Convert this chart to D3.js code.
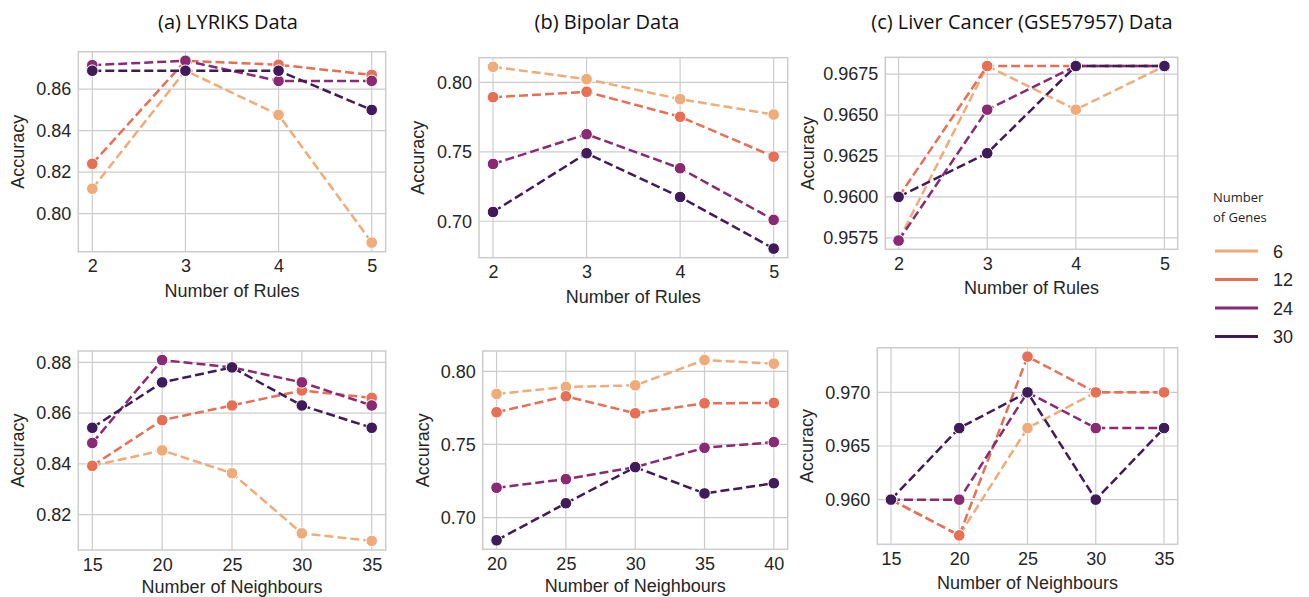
<!DOCTYPE html>
<html>
<head>
<meta charset="utf-8">
<script src="https://cdn.jsdelivr.net/npm/d3@7"></script>
<style>
  html, body { margin: 0; padding: 0; background: #fff; }
  svg { display: block; }
</style>
</head>
<body>
<svg id="chart" width="1309" height="597"></svg>
<script>
// ---------------- DATA ----------------
const geneCounts = ["6", "12", "24", "30"];
const rules = [2, 3, 4, 5];
const neighboursA = [15, 20, 25, 30, 35];
const neighboursB = [20, 25, 30, 35, 40];
const neighboursC = [15, 20, 25, 30, 35];

// (a) LYRIKS - rules
const lyriksRules6  = [0.812, 0.869, 0.8476, 0.786];
const lyriksRules12 = [0.824, 0.8737, 0.8718, 0.8669];
const lyriksRules24 = [0.8716, 0.8737, 0.864, 0.864];
const lyriksRules30 = [0.8689, 0.8689, 0.8689, 0.850];
// (b) Bipolar - rules
const bipolarRules6  = [0.8113, 0.8024, 0.788, 0.7769];
const bipolarRules12 = [0.7894, 0.7933, 0.7753, 0.7466];
const bipolarRules24 = [0.7413, 0.7627, 0.7382, 0.701];
const bipolarRules30 = [0.7067, 0.749, 0.7175, 0.6803];
// (c) Liver cancer - rules
const liverRules6  = [0.95733, 0.968, 0.96533, 0.968];
const liverRules12 = [0.960, 0.968, 0.968, 0.968];
const liverRules24 = [0.95733, 0.96533, 0.968, 0.968];
const liverRules30 = [0.960, 0.96267, 0.968, 0.968];
// (a) LYRIKS - neighbours
const lyriksNb6  = [0.8392, 0.8453, 0.8363, 0.8126, 0.8096];
const lyriksNb12 = [0.8392, 0.8572, 0.863, 0.8689, 0.866];
const lyriksNb24 = [0.8482, 0.8809, 0.878, 0.8721, 0.8630];
const lyriksNb30 = [0.8542, 0.8721, 0.878, 0.8630, 0.8542];
// (b) Bipolar - neighbours
const bipolarNb6  = [0.7845, 0.7893, 0.7904, 0.8077, 0.8052];
const bipolarNb12 = [0.772, 0.7829, 0.7713, 0.7781, 0.7784];
const bipolarNb24 = [0.7204, 0.7263, 0.7345, 0.7477, 0.7516];
const bipolarNb30 = [0.6845, 0.7098, 0.7345, 0.7165, 0.7235];
// (c) Liver cancer - neighbours
const liverNb6  = [0.960, 0.95667, 0.96667, 0.970, 0.970];
const liverNb12 = [0.960, 0.95667, 0.97333, 0.970, 0.970];
const liverNb24 = [0.960, 0.960, 0.970, 0.96667, 0.96667];
const liverNb30 = [0.960, 0.96667, 0.970, 0.960, 0.96667];

// tick labels
const yTicksA1 = [0.80, 0.82, 0.84, 0.86];
const yTicksB1 = [0.70, 0.75, 0.80];
const yTicksC1 = [0.9575, 0.9600, 0.9625, 0.9650, 0.9675];
const yTicksA2 = [0.82, 0.84, 0.86, 0.88];
const yTicksB2 = [0.70, 0.75, 0.80];
const yTicksC2 = [0.960, 0.965, 0.970];

const titles = ["(a) LYRIKS Data", "(b) Bipolar Data", "(c) Liver Cancer (GSE57957) Data"];
const legendTitle = ["Number", "of Genes"];

// ---------------- STYLE / LAYOUT ----------------
const colors = ["#efac7a", "#e66f55", "#8a2a72", "#3f1b5a"];
const svg = d3.select("#chart");

const panels = [
  { x: rules, series: [lyriksRules6, lyriksRules12, lyriksRules24, lyriksRules30], yt: yTicksA1, fmt: ".2f",
    box: [78.3, 385.7, 51.7, 251.7], xlabel: "Number of Rules", ylabX: 20, labOff: 45 },
  { x: rules, series: [bipolarRules6, bipolarRules12, bipolarRules24, bipolarRules30], yt: yTicksB1, fmt: ".2f",
    box: [479, 787.7, 57.7, 257.7], xlabel: "Number of Rules", ylabX: 420, labOff: 45 },
  { x: rules, series: [liverRules6, liverRules12, liverRules24, liverRules30], yt: yTicksC1, fmt: ".4f",
    box: [885.3, 1177.7, 57.3, 249.3], xlabel: "Number of Rules", ylabX: 810, labOff: 45 },
  { x: neighboursA, series: [lyriksNb6, lyriksNb12, lyriksNb24, lyriksNb30], yt: yTicksA2, fmt: ".2f",
    box: [78.3, 385.7, 351, 550], xlabel: "Number of Neighbours", ylabX: 20, labOff: 42.5 },
  { x: neighboursB, series: [bipolarNb6, bipolarNb12, bipolarNb24, bipolarNb30], yt: yTicksB2, fmt: ".2f",
    box: [482.7, 787.7, 351, 549.3], xlabel: "Number of Neighbours", ylabX: 425, labOff: 43 },
  { x: neighboursC, series: [liverNb6, liverNb12, liverNb24, liverNb30], yt: yTicksC2, fmt: ".3f",
    box: [877.3, 1177.7, 347.7, 544.3], xlabel: "Number of Neighbours", ylabX: 809, labOff: 45 }
];

const tickFont = "'Liberation Sans', Arial, sans-serif";
const textColor = "#262626";

function padded(ext) {
  const r = ext[1] - ext[0];
  return [ext[0] - 0.05 * r, ext[1] + 0.05 * r];
}

panels.forEach((p) => {
  const [x0, x1, y0, y1] = p.box;
  const xs = d3.scaleLinear().domain(padded(d3.extent(p.x))).range([x0, x1]);
  const allY = p.series.flat();
  const ys = d3.scaleLinear().domain(padded(d3.extent(allY))).range([y1, y0]);
  const g = svg.append("g");

  // grid
  g.append("g").selectAll("line.vx").data(p.x).join("line")
    .attr("x1", d => xs(d)).attr("x2", d => xs(d)).attr("y1", y0).attr("y2", y1)
    .attr("stroke", "#cccccc").attr("stroke-width", 1.2);
  g.append("g").selectAll("line.hy").data(p.yt).join("line")
    .attr("y1", d => ys(d)).attr("y2", d => ys(d)).attr("x1", x0).attr("x2", x1)
    .attr("stroke", "#cccccc").attr("stroke-width", 1.2);

  // axes (labels only)
  const xAxis = d3.axisBottom(xs).tickValues(p.x).tickSize(0).tickPadding(8).tickFormat(d3.format("d"));
  const ax = g.append("g").attr("transform", `translate(0,${y1})`).call(xAxis);
  ax.select(".domain").remove();
  ax.selectAll("text").attr("font-family", tickFont).attr("font-size", 18).attr("fill", textColor);

  const yAxis = d3.axisLeft(ys).tickValues(p.yt).tickSize(0).tickPadding(7).tickFormat(d3.format(p.fmt));
  const ay = g.append("g").attr("transform", `translate(${x0},0)`).call(yAxis);
  ay.select(".domain").remove();
  ay.selectAll("text").attr("font-family", tickFont).attr("font-size", 18).attr("fill", textColor);

  // frame
  g.append("rect").attr("x", x0).attr("y", y0).attr("width", x1 - x0).attr("height", y1 - y0)
    .attr("fill", "none").attr("stroke", "#cccccc").attr("stroke-width", 1.5);

  // axis labels
  g.append("text").attr("x", (x0 + x1) / 2).attr("y", y1 + p.labOff)
    .attr("text-anchor", "middle").attr("font-family", tickFont).attr("font-size", 18)
    .attr("fill", textColor).text(p.xlabel);
  g.append("text").attr("transform", `translate(${p.ylabX + 3.5},${(y0 + y1) / 2}) rotate(-90)`)
    .attr("text-anchor", "middle").attr("font-family", tickFont).attr("font-size", 18)
    .attr("fill", textColor).text("Accuracy");

  // lines + markers
  const line = d3.line().x(d => xs(d[0])).y(d => ys(d[1]));
  p.series.forEach((s, i) => {
    const pts = p.x.map((xv, j) => [xv, s[j]]);
    g.append("path").datum(pts).attr("d", line)
      .attr("fill", "none").attr("stroke", colors[i]).attr("stroke-width", 2.5)
      .attr("stroke-dasharray", "9,4");
  });
  p.series.forEach((s, i) => {
    const pts = p.x.map((xv, j) => [xv, s[j]]);
    g.append("g").selectAll("circle").data(pts).join("circle")
      .attr("cx", d => xs(d[0])).attr("cy", d => ys(d[1])).attr("r", 5.8)
      .attr("fill", colors[i]).attr("stroke", "#ffffff").attr("stroke-width", 1);
  });
});

// titles
const titleX = [228, 607, 1022];
titles.forEach((t, i) => {
  svg.append("text").attr("x", titleX[i]).attr("y", 29)
    .attr("text-anchor", "middle").attr("font-family", "'Open Sans', sans-serif")
    .attr("font-size", 20).attr("fill", "#111").text(t);
});

// legend
const lg = svg.append("g");
legendTitle.forEach((t, i) => {
  lg.append("text").attr("x", 1213).attr("y", 202 + i * 20)
    .attr("font-family", "'Open Sans', sans-serif").attr("font-size", 13)
    .attr("fill", textColor).text(t);
});
const legendY = [251, 279.5, 308, 336.5];
geneCounts.forEach((gname, i) => {
  lg.append("line").attr("x1", 1215).attr("x2", 1258).attr("y1", legendY[i]).attr("y2", legendY[i])
    .attr("stroke", colors[i]).attr("stroke-width", 3);
  lg.append("text").attr("x", 1273).attr("y", legendY[i] + 6.5)
    .attr("font-family", tickFont).attr("font-size", 18).attr("fill", textColor).text(gname);
});
</script>
</body>
</html>
